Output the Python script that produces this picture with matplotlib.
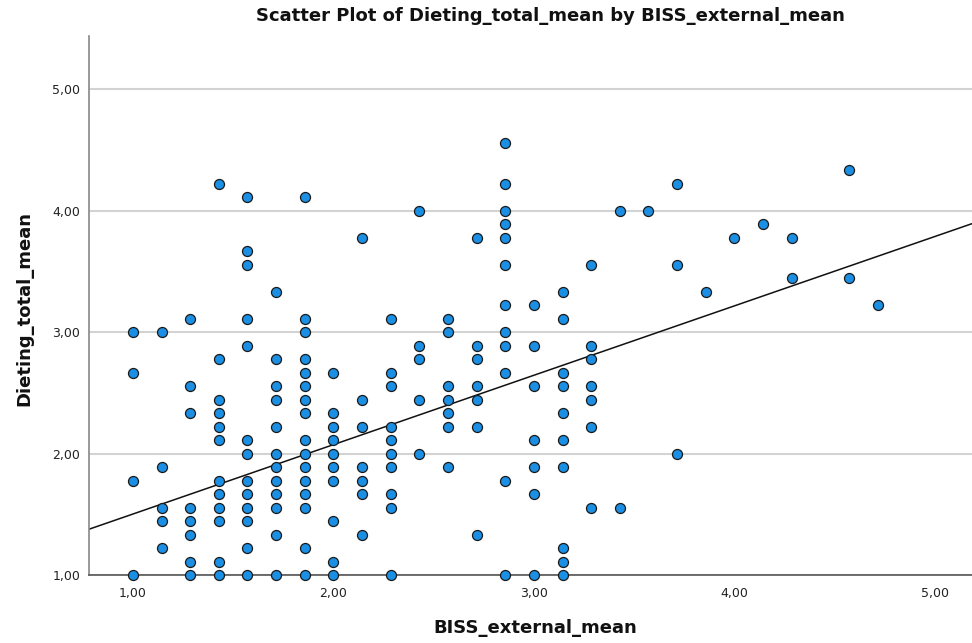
import matplotlib
matplotlib.use("Agg")
import matplotlib.pyplot as plt
from matplotlib.ticker import FuncFormatter

# x values (BISS_external_mean) per column and the Dieting_total_mean values in each column
col_x = [1.000, 1.143, 1.286, 1.429, 1.571, 1.714, 1.857, 2.000, 2.143, 2.286,
         2.429, 2.571, 2.714, 2.857, 3.000, 3.143, 3.286, 3.429, 3.571, 3.714,
         3.857, 4.000, 4.143, 4.286, 4.571, 4.714]
col_y = [
    [3.000, 2.667, 1.778, 1.000],
    [3.000, 1.889, 1.556, 1.444, 1.222],
    [3.111, 2.556, 2.333, 1.556, 1.444, 1.333, 1.111, 1.000],
    [4.222, 2.778, 2.444, 2.333, 2.222, 2.111, 1.778, 1.667, 1.556, 1.444, 1.111, 1.000],
    [4.111, 3.667, 3.556, 3.111, 2.889, 2.111, 2.000, 1.778, 1.667, 1.556, 1.444, 1.222, 1.000],
    [3.333, 2.778, 2.556, 2.444, 2.222, 2.000, 1.889, 1.778, 1.667, 1.556, 1.333, 1.000],
    [4.111, 3.111, 3.000, 2.778, 2.667, 2.556, 2.444, 2.333, 2.111, 2.000, 1.889, 1.778,
     1.667, 1.556, 1.222, 1.000],
    [2.667, 2.333, 2.222, 2.111, 2.000, 1.889, 1.778, 1.444, 1.111, 1.000],
    [3.778, 2.444, 2.222, 1.889, 1.778, 1.667, 1.333],
    [3.111, 2.667, 2.556, 2.222, 2.111, 2.000, 1.889, 1.667, 1.556, 1.000],
    [4.000, 2.889, 2.778, 2.444, 2.000],
    [3.111, 3.000, 2.556, 2.444, 2.333, 2.222, 1.889],
    [3.778, 2.889, 2.778, 2.556, 2.444, 2.222, 1.333],
    [4.556, 4.222, 4.000, 3.889, 3.778, 3.556, 3.222, 3.000, 2.889, 2.667, 1.778, 1.000],
    [3.222, 2.889, 2.556, 2.111, 1.889, 1.667, 1.000],
    [3.333, 3.111, 2.667, 2.556, 2.333, 2.111, 1.889, 1.222, 1.111, 1.000],
    [3.556, 2.889, 2.778, 2.556, 2.444, 2.222, 1.556],
    [4.000, 1.556],
    [4.000],
    [4.222, 3.556, 2.000],
    [3.333],
    [3.778],
    [3.889],
    [3.778, 3.444],
    [4.333, 3.444],
    [3.222],
]

# fit line
fit_intercept = 0.931
fit_slope = 0.5715

x_ticks = [1.0, 2.0, 3.0, 4.0, 5.0]
y_ticks = [1.0, 2.0, 3.0, 4.0, 5.0]

xs, ys = [], []
for cx, cy in zip(col_x, col_y):
    for v in cy:
        xs.append(cx)
        ys.append(v)

W, H = 972, 643
fig = plt.figure(figsize=(W / 100, H / 100), dpi=100)
ax = fig.add_axes([88.7 / W, 1 - 575 / H, 1 - 88.7 / W, (575 - 36) / H])

xlim = (0.779, 5.185)
ylim = (1.0, 5.44)
ax.set_xlim(*xlim)
ax.set_ylim(*ylim)

ax.set_yticks(y_ticks)
ax.set_xticks(x_ticks)
fmt = FuncFormatter(lambda v, p: f"{v:.2f}".replace(".", ","))
ax.xaxis.set_major_formatter(fmt)
ax.yaxis.set_major_formatter(fmt)
ax.tick_params(axis="both", length=0, labelsize=9, colors="#222222")
ax.tick_params(axis="y", pad=6)
ax.tick_params(axis="x", pad=9)

ax.yaxis.grid(True, color="#d3d3d3", linewidth=1.5, zorder=0)
ax.set_axisbelow(True)
for s in ("top", "right"):
    ax.spines[s].set_visible(False)
ax.spines["left"].set_color("#888888")
ax.spines["left"].set_linewidth(1.2)
ax.spines["bottom"].set_color("#555555")
ax.spines["bottom"].set_linewidth(1.2)

ax.plot(list(xlim), [fit_intercept + fit_slope * xlim[0], fit_intercept + fit_slope * xlim[1]],
        color="#111111", linewidth=1.1, zorder=2)

ax.scatter(xs, ys, s=52, facecolor="#1b8fe3", edgecolor="#1a1a1a", linewidth=0.9,
           zorder=3, clip_on=False)

fig.text(550 / W, 1 - 16 / H, "Scatter Plot of Dieting_total_mean by BISS_external_mean",
         ha="center", va="center", fontsize=13, fontweight="bold", color="#111111")
fig.text(535 / W, 1 - 628 / H, "BISS_external_mean", ha="center", va="center",
         fontsize=13, fontweight="bold", color="#111111")
fig.text(24 / W, 1 - 308 / H, "Dieting_total_mean", ha="center", va="center",
         rotation=90, fontsize=13, fontweight="bold", color="#111111")

fig.savefig("out.png", dpi=100)
